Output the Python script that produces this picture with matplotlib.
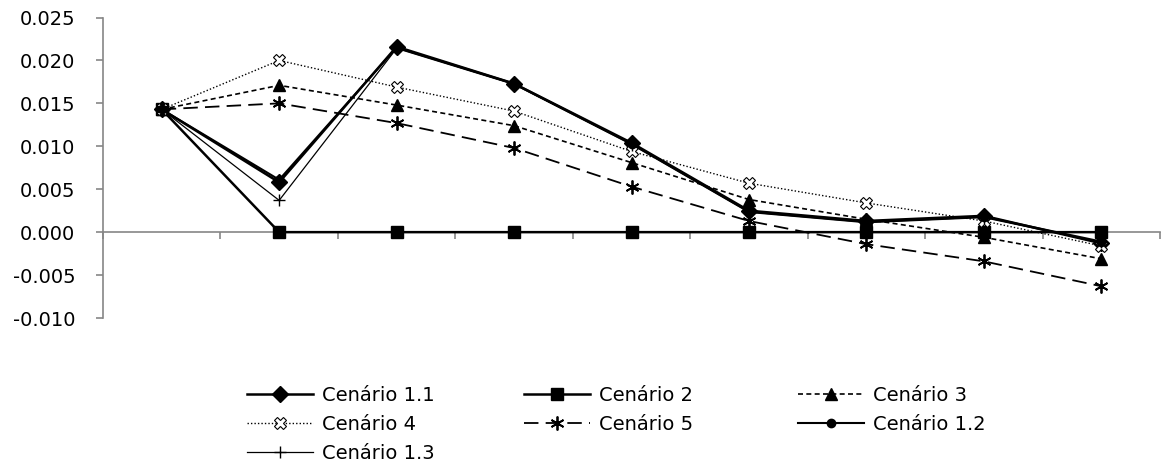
import matplotlib
matplotlib.use("Agg")
import matplotlib.pyplot as plt
from matplotlib.ticker import FormatStrFormatter

plt.rcParams['font.family'] = ['DejaVu Sans']
plt.rcParams['axes.unicode_minus'] = False

# ---- data ----
categories = list(range(9))
c11 = [0.0143, 0.0058, 0.0216, 0.0173, 0.0104, 0.0025, 0.0013, 0.0019, -0.0013]
c2 = [0.0143, 0.0, 0.0, 0.0, 0.0, 0.0, 0.0, 0.0, 0.0]
c3 = [0.0143, 0.0171, 0.0148, 0.0124, 0.0081, 0.0038, 0.0015, -0.0006, -0.0031]
c4 = [0.0143, 0.0200, 0.0169, 0.0141, 0.0094, 0.0057, 0.0034, 0.0013, -0.0016]
c5 = [0.0143, 0.0150, 0.0127, 0.0098, 0.0053, 0.0013, -0.0014, -0.0034, -0.0063]
c12 = [0.0143, 0.0061, 0.0215, 0.0173, 0.0103, 0.0024, 0.0012, 0.0018, -0.0011]
c13 = [0.0143, 0.0037, 0.0214, 0.0172, 0.0102, 0.0023, 0.0011, 0.0017, -0.0012]
labels = ["Cenário 1.1", "Cenário 2", "Cenário 3", "Cenário 4",
          "Cenário 5", "Cenário 1.2", "Cenário 1.3"]
yticks = [-0.010, -0.005, 0.000, 0.005, 0.010, 0.015, 0.020, 0.025]

W, H = 1161, 470
fig = plt.figure(figsize=(W / 100, H / 100), dpi=100)
ax = fig.add_axes([103 / W, 1 - 318 / H, (1160 - 103) / W, (318 - 17.5) / H])

gray = '#868686'
h = {}
h['c11'], = ax.plot(categories, c11, color='black', lw=1.8, marker='D', ms=8,
                    label=labels[0])
h['c2'], = ax.plot(categories, c2, color='black', lw=1.8, marker='s', ms=9,
                   label=labels[1])
h['c3'], = ax.plot(categories, c3, color='black', lw=1.2, ls=(0, (3, 2)),
                   marker='^', ms=8, label=labels[2])
h['c4'], = ax.plot(categories, c4, color='black', lw=1.0, ls=(0, (1, 1.5)),
                   marker='X', ms=9, mfc='white', mec='black', mew=0.8,
                   label=labels[3])
h['c5'], = ax.plot(categories, c5, color='black', lw=1.3, ls=(0, (8, 4)),
                   marker=(6, 2, 0), ms=10, mew=1.3, label=labels[4])
h['c12'], = ax.plot(categories, c12, color='black', lw=1.5, marker='o', ms=6,
                    label=labels[5])
h['c13'], = ax.plot(categories, c13, color='black', lw=0.9, marker='+', ms=8,
                    mew=1.0, label=labels[6])

ax.set_xlim(-0.5, 8.5)
ax.set_ylim(-0.010, 0.025)
ax.set_yticks(yticks)
ax.yaxis.set_major_formatter(FormatStrFormatter('%.3f'))
ax.set_xticks([i - 0.5 for i in range(10)])
ax.set_xticklabels([])

for s in ['top', 'right']:
    ax.spines[s].set_visible(False)
ax.spines['left'].set_color(gray)
ax.spines['left'].set_linewidth(1.2)
ax.spines['bottom'].set_position(('data', 0))
ax.spines['bottom'].set_color(gray)
ax.spines['bottom'].set_linewidth(1.2)
ax.spines['bottom'].set_zorder(0.5)
ax.tick_params(axis='y', direction='out', length=5, width=1.2, color=gray,
               labelsize=14, pad=15)
ax.tick_params(axis='x', direction='out', length=5, width=1.2, color=gray)

leg_kw = dict(frameon=False, fontsize=14, handlelength=3.4, handletextpad=0.45,
              labelspacing=0.52, borderpad=0, borderaxespad=0, loc='upper left')
ytop = 1 - 386 / H
fig.legend([h['c11'], h['c4'], h['c13']], [labels[0], labels[3], labels[6]],
           bbox_to_anchor=(247 / W, ytop), **leg_kw)
fig.legend([h['c2'], h['c5']], [labels[1], labels[4]],
           bbox_to_anchor=(524 / W, ytop), **leg_kw)
fig.legend([h['c3'], h['c12']], [labels[2], labels[5]],
           bbox_to_anchor=(798 / W, ytop), **leg_kw)

fig.savefig('out.png', dpi=100)
